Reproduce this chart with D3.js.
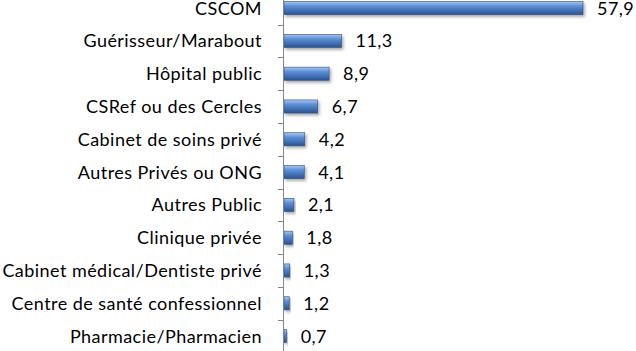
<!DOCTYPE html>
<html><head><meta charset="utf-8">
<script src="https://cdn.jsdelivr.net/npm/d3@7"></script>
<style>body{margin:0;background:#fff}svg{display:block}text{font-family:Lato,"Open Sans",sans-serif}</style>
</head><body><svg id="c" width="636" height="351"></svg>
<script>
const categories = ["CSCOM","Guérisseur/Marabout","Hôpital public","CSRef ou des Cercles","Cabinet de soins privé","Autres Privés ou ONG","Autres Public","Clinique privée","Cabinet médical/Dentiste privé","Centre de santé confessionnel","Pharmacie/Pharmacien"];
const values = [57.9,11.3,8.9,6.7,4.2,4.1,2.1,1.8,1.3,1.2,0.7];
const valueLabels = ["57,9","11,3","8,9","6,7","4,2","4,1","2,1","1,8","1,3","1,2","0,7"];

const svg = d3.select("#c");
const x0 = 283;
const x = d3.scaleLinear().domain([0, 57.9]).range([x0, 583]);
const y = d3.scaleBand().domain(categories).range([-8.3, 352.5]).paddingInner(0.6).paddingOuter(0.3);

const defs = svg.append("defs");
const g = defs.append("linearGradient").attr("id","bg").attr("x1",0).attr("x2",0).attr("y1",0).attr("y2",1);
g.append("stop").attr("offset","0%").attr("stop-color","#a9c7ee");
g.append("stop").attr("offset","35%").attr("stop-color","#5b8fd6");
g.append("stop").attr("offset","100%").attr("stop-color","#2a5390");
const f = defs.append("filter").attr("id","sh").attr("x","-10%").attr("y","-50%").attr("width","130%").attr("height","250%");
f.append("feDropShadow").attr("dx",1.5).attr("dy",2).attr("stdDeviation",1.5).attr("flood-color","#000").attr("flood-opacity",0.35);

svg.selectAll("rect.bar").data(values).join("rect").attr("class","bar")
  .attr("x", x0+1).attr("y",(d,i)=>y(categories[i]))
  .attr("width", d=>x(d)-x0-1).attr("height", y.bandwidth())
  .attr("fill","url(#bg)").attr("stroke","#2c4f80").attr("stroke-width",0.6)
  .attr("filter","url(#sh)");

const step = y.step();
const ax = svg.append("g");
ax.append("line").attr("x1",x0+0.5).attr("x2",x0+0.5).attr("y1",-8).attr("y2",352).attr("stroke","#868686");
const bounds = d3.range(categories.length+1).map(i => y.range()[0] + i*step);
ax.selectAll("line.t").data(bounds).join("line").attr("class","t")
  .attr("x1",x0-5).attr("x2",x0).attr("y1",d=>Math.round(d)+0.5).attr("y2",d=>Math.round(d)+0.5).attr("stroke","#868686");

svg.selectAll("text.cat").data(categories).join("text").attr("class","cat")
  .attr("x",262).attr("y",d=>y(d)+y.bandwidth()/2).attr("dy","0.36em")
  .attr("text-anchor","end").attr("font-size",18).attr("letter-spacing","0.45px").attr("fill","#000").text(d=>d);

svg.selectAll("text.val").data(values).join("text").attr("class","val")
  .attr("x",d=>x(d)+14).attr("y",(d,i)=>y(categories[i])+y.bandwidth()/2).attr("dy","0.36em")
  .attr("font-size",18).attr("letter-spacing","0.45px").attr("fill","#000").text((d,i)=>valueLabels[i]);
</script></body></html>
